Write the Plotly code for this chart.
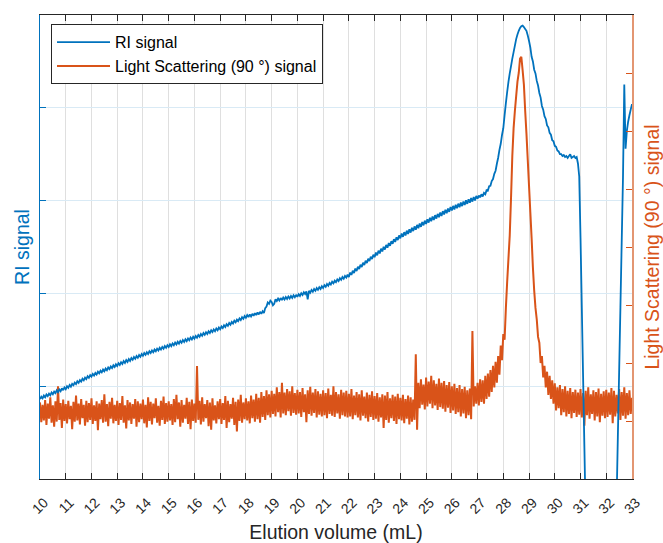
import plotly.graph_objects as go

# ---------------- data ----------------
# RI signal, sampled every 0.05 mL from 10.0 to 33.0 mL (arbitrary units, axis 0..5)
ri_start = 10.0
ri_step = 0.05
ri_signal = [
    0.860, 0.887, 0.869, 0.899, 0.880, 0.910, 0.893, 0.920, 0.902, 0.933, 0.914, 0.942, 0.925, 0.955, 0.936, 0.965, 0.946, 0.977, 0.957, 0.987,  # 10
    0.968, 0.999, 0.982, 1.013, 0.995, 1.025, 1.010, 1.038, 1.022, 1.053, 1.036, 1.066, 1.049, 1.080, 1.063, 1.093, 1.076, 1.108, 1.090, 1.120,  # 11
    1.103, 1.133, 1.115, 1.144, 1.126, 1.156, 1.138, 1.167, 1.149, 1.179, 1.161, 1.190, 1.172, 1.202, 1.184, 1.213, 1.195, 1.225, 1.207, 1.236,  # 12
    1.218, 1.248, 1.229, 1.259, 1.240, 1.270, 1.251, 1.281, 1.262, 1.292, 1.273, 1.303, 1.284, 1.314, 1.295, 1.325, 1.306, 1.336, 1.317, 1.347,  # 13
    1.328, 1.357, 1.338, 1.366, 1.347, 1.376, 1.357, 1.385, 1.366, 1.395, 1.376, 1.404, 1.385, 1.414, 1.395, 1.423, 1.404, 1.433, 1.414, 1.442,  # 14
    1.423, 1.452, 1.432, 1.461, 1.441, 1.470, 1.450, 1.479, 1.459, 1.488, 1.468, 1.497, 1.477, 1.506, 1.486, 1.515, 1.495, 1.524, 1.504, 1.533,  # 15
    1.513, 1.542, 1.523, 1.552, 1.533, 1.562, 1.543, 1.572, 1.553, 1.582, 1.563, 1.592, 1.573, 1.602, 1.583, 1.612, 1.593, 1.622, 1.603, 1.632,  # 16
    1.613, 1.643, 1.626, 1.656, 1.638, 1.668, 1.651, 1.681, 1.663, 1.693, 1.676, 1.706, 1.688, 1.718, 1.701, 1.731, 1.713, 1.743, 1.726, 1.756,  # 17
    1.738, 1.766, 1.745, 1.773, 1.752, 1.780, 1.759, 1.787, 1.766, 1.794, 1.773, 1.801, 1.780, 1.808, 1.788, 1.842, 1.858, 1.902, 1.888, 1.922,  # 18
    1.908, 1.872, 1.888, 1.937, 1.918, 1.944, 1.923, 1.950, 1.928, 1.955, 1.934, 1.961, 1.940, 1.967, 1.946, 1.973, 1.952, 1.979, 1.958, 1.985,  # 19
    1.963, 1.992, 1.973, 2.002, 1.983, 2.012, 1.993, 2.022, 1.935, 2.027, 2.008, 2.037, 2.018, 2.047, 2.028, 2.057, 2.038, 2.067, 2.048, 2.077,  # 20
    2.058, 2.088, 2.071, 2.101, 2.083, 2.113, 2.096, 2.126, 2.108, 2.138, 2.121, 2.151, 2.133, 2.163, 2.146, 2.176, 2.158, 2.188, 2.171, 2.201,  # 21
    2.177, 2.224, 2.199, 2.245, 2.220, 2.267, 2.242, 2.288, 2.263, 2.310, 2.285, 2.331, 2.306, 2.353, 2.328, 2.374, 2.349, 2.396, 2.371, 2.417,  # 22
    2.390, 2.440, 2.411, 2.461, 2.431, 2.481, 2.452, 2.502, 2.472, 2.522, 2.493, 2.543, 2.513, 2.563, 2.534, 2.584, 2.554, 2.604, 2.575, 2.625,  # 23
    2.593, 2.645, 2.609, 2.660, 2.624, 2.676, 2.640, 2.691, 2.655, 2.707, 2.671, 2.722, 2.686, 2.738, 2.702, 2.753, 2.717, 2.769, 2.733, 2.784,  # 24
    2.748, 2.799, 2.763, 2.814, 2.777, 2.828, 2.792, 2.843, 2.806, 2.857, 2.821, 2.872, 2.835, 2.886, 2.850, 2.901, 2.864, 2.915, 2.879, 2.930,  # 25
    2.893, 2.943, 2.905, 2.955, 2.917, 2.967, 2.929, 2.979, 2.941, 2.991, 2.953, 3.003, 2.965, 3.015, 2.977, 3.027, 2.989, 3.039, 3.001, 3.051,  # 26
    3.020, 3.055, 3.035, 3.068, 3.045, 3.082, 3.068, 3.112, 3.108, 3.155, 3.160, 3.210, 3.232, 3.288, 3.322, 3.397, 3.462, 3.547, 3.612, 3.707,  # 27
    3.780, 3.920, 4.050, 4.170, 4.280, 4.370, 4.450, 4.530, 4.600, 4.670, 4.740, 4.790, 4.830, 4.860, 4.880, 4.885, 4.870, 4.850, 4.830, 4.780,  # 28
    4.720, 4.650, 4.550, 4.500, 4.410, 4.370, 4.290, 4.240, 4.160, 4.110, 4.020, 3.980, 3.910, 3.880, 3.810, 3.790, 3.730, 3.710, 3.650, 3.640,  # 29
    3.590, 3.580, 3.540, 3.530, 3.500, 3.500, 3.480, 3.490, 3.470, 3.480, 3.460, 3.480, 3.500, 3.460, 3.470, 3.480, 3.460, 3.470, 3.400, 3.260,  # 30
    2.600, 1.850, 1.100, 0.350, -0.400, -1.500, -1.500, -1.500, -1.500, -1.500, -1.500, -1.500, -1.500, -1.500, -1.500, -1.500, -1.500, -1.500, -1.500, -1.500,  # 31
    -1.500, -1.500, -1.500, -1.500, -1.500, -1.500, -1.500, -1.500, -0.250, 0.450, 1.150, 1.850, 2.550, 3.250, 4.250, 3.560, 3.750, 3.850, 3.920, 3.980,  # 32
    4.040,  # 33
]

# Light scattering (90 deg) signal, sampled every 0.05 mL from 10.0 to 33.0 mL (axis 0..8)
ls_start = 10.0
ls_step = 0.05
ls_signal = [
    1.32, 0.98, 1.28, 1.01, 1.36, 0.93, 1.30, 1.04, 1.41, 0.97, 1.27, 0.90, 1.34, 0.99, 1.60, 1.02, 1.31, 0.88, 1.37, 1.00,  # 10
    1.29, 0.96, 1.35, 1.03, 1.26, 0.86, 1.33, 0.99, 1.44, 1.01, 1.30, 0.94, 1.38, 1.05, 1.28, 0.92, 1.35, 0.98, 1.31, 1.02,  # 11
    1.39, 0.95, 1.27, 1.00, 1.34, 0.84, 1.30, 1.03, 1.36, 0.97, 1.46, 0.99, 1.29, 0.91, 1.33, 1.04, 1.40, 0.96, 1.28, 1.00,  # 12
    1.35, 0.93, 1.31, 1.02, 1.43, 0.97, 1.27, 0.87, 1.36, 1.01, 1.32, 0.95, 1.29, 1.04, 1.38, 0.90, 1.34, 0.98, 1.30, 1.03,  # 13
    1.37, 0.96, 1.28, 0.89, 1.41, 1.00, 1.33, 0.94, 1.30, 1.05, 1.39, 0.97, 1.26, 0.92, 1.35, 1.02, 1.42, 0.95, 1.31, 0.99,  # 14
    1.34, 1.01, 1.29, 0.93, 1.38, 0.98, 1.45, 1.03, 1.32, 0.90, 1.36, 0.97, 1.28, 1.04, 1.40, 0.95, 1.33, 0.86, 1.37, 1.00,  # 15
    1.30, 0.97, 1.95, 1.02, 1.35, 0.94, 1.41, 0.99, 1.29, 1.05, 1.36, 0.91, 1.32, 0.85, 1.39, 1.01, 1.27, 0.96, 1.34, 1.03,  # 16
    1.38, 0.95, 1.31, 1.02, 1.43, 0.88, 1.35, 0.98, 1.29, 1.04, 1.40, 0.93, 1.33, 0.82, 1.37, 1.00, 1.45, 0.97, 1.32, 1.03,  # 17
    1.39, 1.01, 1.34, 0.96, 1.44, 1.05, 1.37, 0.99, 1.47, 1.03, 1.40, 0.97, 1.50, 1.07, 1.43, 1.02, 1.53, 1.10, 1.46, 1.06,  # 18
    1.52, 1.12, 1.47, 1.08, 1.58, 1.15, 1.50, 1.06, 1.66, 1.13, 1.49, 1.10, 1.55, 1.17, 1.51, 1.09, 1.60, 1.14, 1.48, 1.11,  # 19
    1.54, 1.13, 1.50, 1.07, 1.57, 1.15, 1.46, 0.98, 1.53, 1.12, 1.59, 1.09, 1.49, 1.14, 1.55, 1.06, 1.51, 1.11, 1.47, 1.08,  # 20
    1.53, 1.10, 1.48, 1.05, 1.56, 1.12, 1.45, 1.09, 1.60, 1.07, 1.50, 1.13, 1.46, 1.04, 1.54, 1.10, 1.49, 1.08, 1.52, 1.06,  # 21
    1.47, 1.08, 1.55, 1.03, 1.44, 1.10, 1.50, 1.06, 1.46, 1.01, 1.53, 1.09, 1.42, 1.05, 1.49, 0.99, 1.45, 1.07, 1.51, 1.02,  # 22
    1.43, 1.04, 1.48, 0.99, 1.41, 1.06, 1.46, 0.88, 1.44, 1.02, 1.50, 0.97, 1.39, 1.05, 1.45, 1.00, 1.42, 0.95, 1.47, 1.03,  # 23
    1.40, 1.01, 1.45, 0.96, 1.38, 1.04, 1.44, 0.94, 1.41, 0.99, 1.37, 1.02, 2.15, 0.85, 1.66, 1.22, 1.72, 1.28, 1.63, 1.20,  # 24
    1.75, 1.25, 1.68, 1.30, 1.78, 1.22, 1.70, 1.27, 1.64, 1.19, 1.73, 1.24, 1.66, 1.21, 1.69, 1.16, 1.62, 1.23, 1.67, 1.14,  # 25
    1.60, 1.18, 1.64, 1.12, 1.57, 1.15, 1.62, 1.08, 1.55, 1.13, 1.59, 1.05, 1.53, 1.10, 1.56, 1.03, 2.55, 1.25, 1.60, 1.30,  # 26
    1.66, 1.27, 1.72, 1.33, 1.70, 1.30, 1.78, 1.38, 1.82, 1.42, 1.88, 1.50, 1.95, 1.58, 2.02, 1.66, 2.12, 1.80, 2.30, 2.05,  # 27
    2.50, 2.40, 2.95, 3.40, 3.80, 4.20, 4.85, 5.57, 6.05, 6.35, 6.60, 6.85, 7.00, 7.25, 7.28, 7.05, 6.80, 6.35, 5.95, 5.50,  # 28
    5.05, 4.60, 4.15, 3.65, 3.25, 2.95, 2.75, 2.45, 2.35, 2.00, 2.12, 1.75, 1.95, 1.58, 1.85, 1.45, 1.78, 1.38, 1.70, 1.30,  # 29
    1.65, 1.18, 1.58, 1.22, 1.62, 1.10, 1.55, 1.15, 1.60, 1.08, 1.52, 1.12, 1.57, 1.05, 1.50, 1.14, 1.54, 1.07, 1.49, 1.11,  # 30
    1.55, 1.06, 1.48, 0.92, 1.52, 1.10, 1.58, 1.04, 1.46, 1.12, 1.53, 1.01, 1.50, 1.08, 1.56, 0.98, 1.47, 1.09, 1.51, 1.05,  # 31
    1.54, 1.07, 1.49, 1.11, 1.57, 0.96, 1.52, 1.08, 1.45, 1.13, 1.55, 1.02, 1.50, 1.09, 1.58, 1.04, 1.48, 1.10, 1.53, 1.12,  # 32
    1.40,  # 33
]

x_tick_values = list(range(10, 34))
x_tick_labels = [str(v) for v in x_tick_values]

ri_volume = [round(ri_start + i * ri_step, 3) for i in range(len(ri_signal))]
ls_volume = [round(ls_start + i * ls_step, 3) for i in range(len(ls_signal))]

# ---------------- styling ----------------
BLUE = "#0072BD"
ORANGE = "#D95319"
DARK = "#262626"
FONT = "Liberation Sans, Arial, Helvetica, sans-serif"

fig = go.Figure()
fig.add_trace(go.Scatter(
    x=ri_volume, y=ri_signal, yaxis="y2", mode="lines",
    name="RI signal", line=dict(color=BLUE, width=1.8, simplify=False),
))
fig.add_trace(go.Scatter(
    x=ls_volume, y=ls_signal, yaxis="y", mode="lines",
    name="Light Scattering (90 °) signal", line=dict(color=ORANGE, width=2, simplify=False),
))

fig.update_layout(
    width=663, height=543,
    margin=dict(l=40, r=31, t=15, b=64),
    paper_bgcolor="white", plot_bgcolor="white",
    font=dict(family=FONT, color=DARK, size=15),
    showlegend=True,
    legend=dict(
        x=0.0186, y=0.980, xanchor="left", yanchor="top",
        bgcolor="white", bordercolor=DARK, borderwidth=1,
        font=dict(family=FONT, size=16, color="black"),
        tracegroupgap=0, itemwidth=53,
    ),
    xaxis=dict(
        range=[10, 33], tickmode="array", tickvals=x_tick_values, ticktext=x_tick_labels,
        tickangle=-45, tickfont=dict(size=14, color=DARK),
        ticklabelstandoff=9, ticklabelshift=4, automargin=False,
        ticks="inside", ticklen=6, tickcolor=DARK,
        showline=True, linecolor=DARK, linewidth=1, mirror="ticks",
        showgrid=True, gridcolor="#DFDFDF", gridwidth=1, zeroline=False,
        title=dict(text="Elution volume (mL)", font=dict(size=19.5, color=DARK), standoff=10),
    ),
    yaxis=dict(
        side="right", range=[0, 8], tickmode="linear", tick0=0, dtick=1,
        showticklabels=False, ticks="inside", ticklen=6, tickcolor=ORANGE,
        showline=True, linecolor="#E39672", linewidth=1.5, automargin=False,
        showgrid=False, zeroline=False,
        title=dict(text="Light Scattering (90 °) signal", font=dict(size=19.5, color=ORANGE), standoff=14),
    ),
    yaxis2=dict(
        overlaying="y", side="left", range=[0, 5], tickmode="linear", tick0=0, dtick=1,
        showticklabels=False, ticks="inside", ticklen=6, tickcolor=BLUE,
        showline=True, linecolor=BLUE, linewidth=1, automargin=False,
        showgrid=True, gridcolor="#D9EAF5", gridwidth=1, zeroline=False,
        title=dict(text="RI signal", font=dict(size=19.5, color=BLUE), standoff=4),
    ),
)

fig.write_html("out.html")
